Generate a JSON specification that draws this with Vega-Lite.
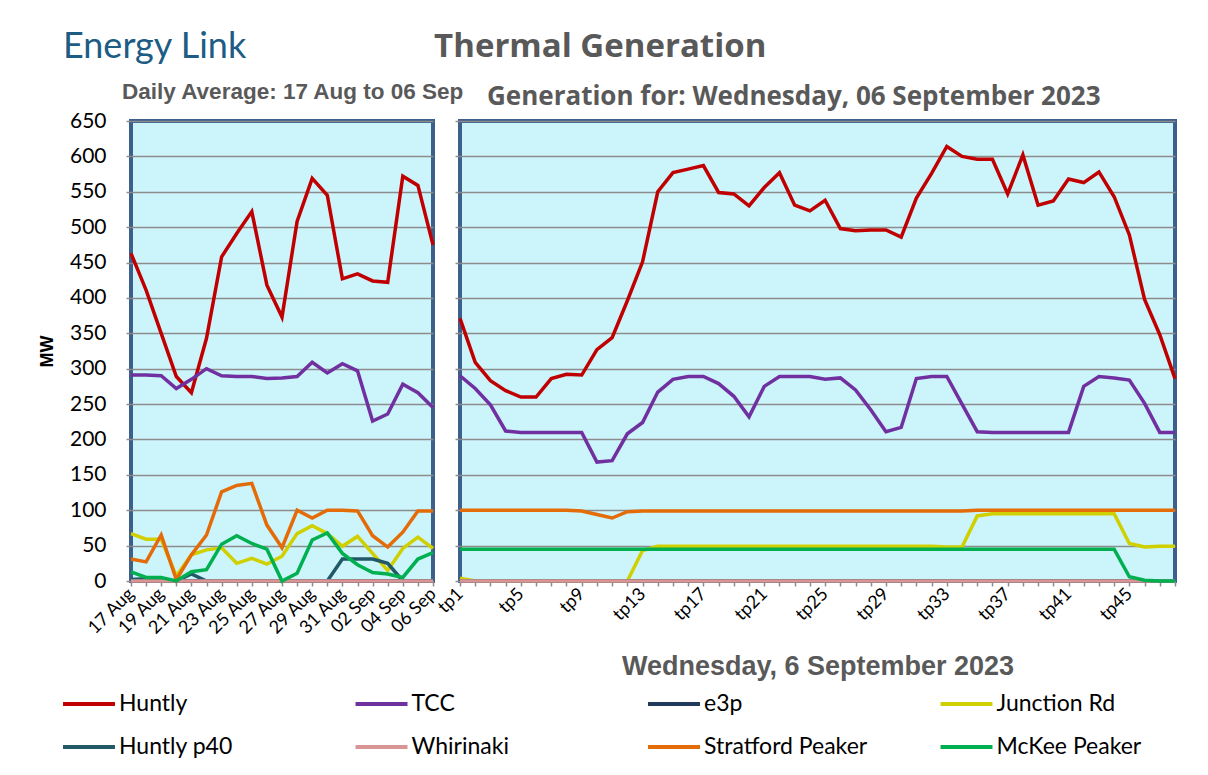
{
  "$schema": "https://vega.github.io/schema/vega-lite/v6.json",
  "background": "white",
  "padding": {"left": 36, "top": 28, "right": 20, "bottom": 10},
  "autosize": {"type": "pad"},
  "title": {"text": "Thermal Generation", "anchor": "middle", "dx": -10, "font": "Open Sans", "fontSize": 33, "fontWeight": "bold", "color": "#595959", "offset": -35},
  "datasets": {
    "daily": [
      {"d": "17 Aug", "Huntly": 463, "TCC": 291, "e3p": 0, "Junction Rd": 67, "Huntly p40": 2, "Whirinaki": 0, "Stratford Peaker": 31, "McKee Peaker": 13},
      {"d": "18 Aug", "Huntly": 411, "TCC": 291, "e3p": 0, "Junction Rd": 59, "Huntly p40": 3, "Whirinaki": 0, "Stratford Peaker": 27, "McKee Peaker": 5},
      {"d": "19 Aug", "Huntly": 350, "TCC": 290, "e3p": 0, "Junction Rd": 59, "Huntly p40": 0, "Whirinaki": 0, "Stratford Peaker": 65, "McKee Peaker": 5},
      {"d": "20 Aug", "Huntly": 289, "TCC": 272, "e3p": 0, "Junction Rd": 7, "Huntly p40": 0, "Whirinaki": 0, "Stratford Peaker": 2, "McKee Peaker": 0},
      {"d": "21 Aug", "Huntly": 266, "TCC": 285, "e3p": 0, "Junction Rd": 37, "Huntly p40": 10, "Whirinaki": 0, "Stratford Peaker": 37, "McKee Peaker": 13},
      {"d": "22 Aug", "Huntly": 343, "TCC": 300, "e3p": 0, "Junction Rd": 44, "Huntly p40": 0, "Whirinaki": 0, "Stratford Peaker": 65, "McKee Peaker": 16},
      {"d": "23 Aug", "Huntly": 458, "TCC": 290, "e3p": 0, "Junction Rd": 47, "Huntly p40": 0, "Whirinaki": 0, "Stratford Peaker": 126, "McKee Peaker": 52},
      {"d": "24 Aug", "Huntly": 491, "TCC": 289, "e3p": 0, "Junction Rd": 25, "Huntly p40": 0, "Whirinaki": 0, "Stratford Peaker": 135, "McKee Peaker": 64},
      {"d": "25 Aug", "Huntly": 522, "TCC": 289, "e3p": 0, "Junction Rd": 32, "Huntly p40": 0, "Whirinaki": 0, "Stratford Peaker": 138, "McKee Peaker": 53},
      {"d": "26 Aug", "Huntly": 418, "TCC": 286, "e3p": 0, "Junction Rd": 24, "Huntly p40": 0, "Whirinaki": 0, "Stratford Peaker": 79, "McKee Peaker": 45},
      {"d": "27 Aug", "Huntly": 373, "TCC": 287, "e3p": 0, "Junction Rd": 35, "Huntly p40": 0, "Whirinaki": 0, "Stratford Peaker": 47, "McKee Peaker": 0},
      {"d": "28 Aug", "Huntly": 508, "TCC": 289, "e3p": 0, "Junction Rd": 67, "Huntly p40": 0, "Whirinaki": 0, "Stratford Peaker": 100, "McKee Peaker": 11},
      {"d": "29 Aug", "Huntly": 569, "TCC": 309, "e3p": 0, "Junction Rd": 78, "Huntly p40": 0, "Whirinaki": 0, "Stratford Peaker": 89, "McKee Peaker": 58},
      {"d": "30 Aug", "Huntly": 545, "TCC": 294, "e3p": 0, "Junction Rd": 67, "Huntly p40": 0, "Whirinaki": 0, "Stratford Peaker": 100, "McKee Peaker": 68},
      {"d": "31 Aug", "Huntly": 427, "TCC": 307, "e3p": 0, "Junction Rd": 49, "Huntly p40": 31, "Whirinaki": 0, "Stratford Peaker": 100, "McKee Peaker": 39},
      {"d": "01 Sep", "Huntly": 434, "TCC": 297, "e3p": 0, "Junction Rd": 63, "Huntly p40": 31, "Whirinaki": 0, "Stratford Peaker": 99, "McKee Peaker": 23},
      {"d": "02 Sep", "Huntly": 424, "TCC": 226, "e3p": 0, "Junction Rd": 39, "Huntly p40": 31, "Whirinaki": 0, "Stratford Peaker": 64, "McKee Peaker": 12},
      {"d": "03 Sep", "Huntly": 422, "TCC": 236, "e3p": 0, "Junction Rd": 15, "Huntly p40": 25, "Whirinaki": 0, "Stratford Peaker": 48, "McKee Peaker": 10},
      {"d": "04 Sep", "Huntly": 572, "TCC": 278, "e3p": 0, "Junction Rd": 46, "Huntly p40": 0, "Whirinaki": 0, "Stratford Peaker": 69, "McKee Peaker": 5},
      {"d": "05 Sep", "Huntly": 559, "TCC": 266, "e3p": 0, "Junction Rd": 62, "Huntly p40": 0, "Whirinaki": 0, "Stratford Peaker": 99, "McKee Peaker": 31},
      {"d": "06 Sep", "Huntly": 475, "TCC": 245, "e3p": 0, "Junction Rd": 46, "Huntly p40": 0, "Whirinaki": 0, "Stratford Peaker": 99, "McKee Peaker": 40}
    ],
    "tp": [
      {"tp": "tp1", "Huntly": 371, "TCC": 290, "e3p": 0, "Junction Rd": 4, "Huntly p40": 0, "Whirinaki": 0, "Stratford Peaker": 100, "McKee Peaker": 45},
      {"tp": "tp2", "Huntly": 309, "TCC": 272, "e3p": 0, "Junction Rd": 0, "Huntly p40": 0, "Whirinaki": 0, "Stratford Peaker": 100, "McKee Peaker": 45},
      {"tp": "tp3", "Huntly": 283, "TCC": 249, "e3p": 0, "Junction Rd": 0, "Huntly p40": 0, "Whirinaki": 0, "Stratford Peaker": 100, "McKee Peaker": 45},
      {"tp": "tp4", "Huntly": 269, "TCC": 212, "e3p": 0, "Junction Rd": 0, "Huntly p40": 0, "Whirinaki": 0, "Stratford Peaker": 100, "McKee Peaker": 45},
      {"tp": "tp5", "Huntly": 260, "TCC": 210, "e3p": 0, "Junction Rd": 0, "Huntly p40": 0, "Whirinaki": 0, "Stratford Peaker": 100, "McKee Peaker": 45},
      {"tp": "tp6", "Huntly": 260, "TCC": 210, "e3p": 0, "Junction Rd": 0, "Huntly p40": 0, "Whirinaki": 0, "Stratford Peaker": 100, "McKee Peaker": 45},
      {"tp": "tp7", "Huntly": 286, "TCC": 210, "e3p": 0, "Junction Rd": 0, "Huntly p40": 0, "Whirinaki": 0, "Stratford Peaker": 100, "McKee Peaker": 45},
      {"tp": "tp8", "Huntly": 292, "TCC": 210, "e3p": 0, "Junction Rd": 0, "Huntly p40": 0, "Whirinaki": 0, "Stratford Peaker": 100, "McKee Peaker": 45},
      {"tp": "tp9", "Huntly": 291, "TCC": 210, "e3p": 0, "Junction Rd": 0, "Huntly p40": 0, "Whirinaki": 0, "Stratford Peaker": 99, "McKee Peaker": 45},
      {"tp": "tp10", "Huntly": 327, "TCC": 168, "e3p": 0, "Junction Rd": 0, "Huntly p40": 0, "Whirinaki": 0, "Stratford Peaker": 94, "McKee Peaker": 45},
      {"tp": "tp11", "Huntly": 344, "TCC": 170, "e3p": 0, "Junction Rd": 0, "Huntly p40": 0, "Whirinaki": 0, "Stratford Peaker": 89, "McKee Peaker": 45},
      {"tp": "tp12", "Huntly": 396, "TCC": 208, "e3p": 0, "Junction Rd": 0, "Huntly p40": 0, "Whirinaki": 0, "Stratford Peaker": 98, "McKee Peaker": 45},
      {"tp": "tp13", "Huntly": 451, "TCC": 224, "e3p": 0, "Junction Rd": 43, "Huntly p40": 0, "Whirinaki": 0, "Stratford Peaker": 99, "McKee Peaker": 45},
      {"tp": "tp14", "Huntly": 550, "TCC": 267, "e3p": 0, "Junction Rd": 49, "Huntly p40": 0, "Whirinaki": 0, "Stratford Peaker": 99, "McKee Peaker": 45},
      {"tp": "tp15", "Huntly": 577, "TCC": 285, "e3p": 0, "Junction Rd": 49, "Huntly p40": 0, "Whirinaki": 0, "Stratford Peaker": 99, "McKee Peaker": 45},
      {"tp": "tp16", "Huntly": 582, "TCC": 289, "e3p": 0, "Junction Rd": 49, "Huntly p40": 0, "Whirinaki": 0, "Stratford Peaker": 99, "McKee Peaker": 45},
      {"tp": "tp17", "Huntly": 587, "TCC": 289, "e3p": 0, "Junction Rd": 49, "Huntly p40": 0, "Whirinaki": 0, "Stratford Peaker": 99, "McKee Peaker": 45},
      {"tp": "tp18", "Huntly": 549, "TCC": 279, "e3p": 0, "Junction Rd": 49, "Huntly p40": 0, "Whirinaki": 0, "Stratford Peaker": 99, "McKee Peaker": 45},
      {"tp": "tp19", "Huntly": 547, "TCC": 261, "e3p": 0, "Junction Rd": 49, "Huntly p40": 0, "Whirinaki": 0, "Stratford Peaker": 99, "McKee Peaker": 45},
      {"tp": "tp20", "Huntly": 530, "TCC": 232, "e3p": 0, "Junction Rd": 49, "Huntly p40": 0, "Whirinaki": 0, "Stratford Peaker": 99, "McKee Peaker": 45},
      {"tp": "tp21", "Huntly": 556, "TCC": 275, "e3p": 0, "Junction Rd": 49, "Huntly p40": 0, "Whirinaki": 0, "Stratford Peaker": 99, "McKee Peaker": 45},
      {"tp": "tp22", "Huntly": 577, "TCC": 289, "e3p": 0, "Junction Rd": 49, "Huntly p40": 0, "Whirinaki": 0, "Stratford Peaker": 99, "McKee Peaker": 45},
      {"tp": "tp23", "Huntly": 531, "TCC": 289, "e3p": 0, "Junction Rd": 49, "Huntly p40": 0, "Whirinaki": 0, "Stratford Peaker": 99, "McKee Peaker": 45},
      {"tp": "tp24", "Huntly": 523, "TCC": 289, "e3p": 0, "Junction Rd": 49, "Huntly p40": 0, "Whirinaki": 0, "Stratford Peaker": 99, "McKee Peaker": 45},
      {"tp": "tp25", "Huntly": 538, "TCC": 285, "e3p": 0, "Junction Rd": 49, "Huntly p40": 0, "Whirinaki": 0, "Stratford Peaker": 99, "McKee Peaker": 45},
      {"tp": "tp26", "Huntly": 498, "TCC": 287, "e3p": 0, "Junction Rd": 49, "Huntly p40": 0, "Whirinaki": 0, "Stratford Peaker": 99, "McKee Peaker": 45},
      {"tp": "tp27", "Huntly": 495, "TCC": 270, "e3p": 0, "Junction Rd": 49, "Huntly p40": 0, "Whirinaki": 0, "Stratford Peaker": 99, "McKee Peaker": 45},
      {"tp": "tp28", "Huntly": 496, "TCC": 242, "e3p": 0, "Junction Rd": 49, "Huntly p40": 0, "Whirinaki": 0, "Stratford Peaker": 99, "McKee Peaker": 45},
      {"tp": "tp29", "Huntly": 496, "TCC": 211, "e3p": 0, "Junction Rd": 49, "Huntly p40": 0, "Whirinaki": 0, "Stratford Peaker": 99, "McKee Peaker": 45},
      {"tp": "tp30", "Huntly": 486, "TCC": 217, "e3p": 0, "Junction Rd": 49, "Huntly p40": 0, "Whirinaki": 0, "Stratford Peaker": 99, "McKee Peaker": 45},
      {"tp": "tp31", "Huntly": 541, "TCC": 286, "e3p": 0, "Junction Rd": 49, "Huntly p40": 0, "Whirinaki": 0, "Stratford Peaker": 99, "McKee Peaker": 45},
      {"tp": "tp32", "Huntly": 576, "TCC": 289, "e3p": 0, "Junction Rd": 49, "Huntly p40": 0, "Whirinaki": 0, "Stratford Peaker": 99, "McKee Peaker": 45},
      {"tp": "tp33", "Huntly": 614, "TCC": 289, "e3p": 0, "Junction Rd": 48, "Huntly p40": 0, "Whirinaki": 0, "Stratford Peaker": 99, "McKee Peaker": 45},
      {"tp": "tp34", "Huntly": 600, "TCC": 250, "e3p": 0, "Junction Rd": 48, "Huntly p40": 0, "Whirinaki": 0, "Stratford Peaker": 99, "McKee Peaker": 45},
      {"tp": "tp35", "Huntly": 596, "TCC": 211, "e3p": 0, "Junction Rd": 92, "Huntly p40": 0, "Whirinaki": 0, "Stratford Peaker": 100, "McKee Peaker": 45},
      {"tp": "tp36", "Huntly": 596, "TCC": 210, "e3p": 0, "Junction Rd": 95, "Huntly p40": 0, "Whirinaki": 0, "Stratford Peaker": 100, "McKee Peaker": 45},
      {"tp": "tp37", "Huntly": 547, "TCC": 210, "e3p": 0, "Junction Rd": 95, "Huntly p40": 0, "Whirinaki": 0, "Stratford Peaker": 100, "McKee Peaker": 45},
      {"tp": "tp38", "Huntly": 602, "TCC": 210, "e3p": 0, "Junction Rd": 95, "Huntly p40": 0, "Whirinaki": 0, "Stratford Peaker": 100, "McKee Peaker": 45},
      {"tp": "tp39", "Huntly": 531, "TCC": 210, "e3p": 0, "Junction Rd": 95, "Huntly p40": 0, "Whirinaki": 0, "Stratford Peaker": 100, "McKee Peaker": 45},
      {"tp": "tp40", "Huntly": 537, "TCC": 210, "e3p": 0, "Junction Rd": 95, "Huntly p40": 0, "Whirinaki": 0, "Stratford Peaker": 100, "McKee Peaker": 45},
      {"tp": "tp41", "Huntly": 568, "TCC": 210, "e3p": 0, "Junction Rd": 95, "Huntly p40": 0, "Whirinaki": 0, "Stratford Peaker": 100, "McKee Peaker": 45},
      {"tp": "tp42", "Huntly": 563, "TCC": 275, "e3p": 0, "Junction Rd": 95, "Huntly p40": 0, "Whirinaki": 0, "Stratford Peaker": 100, "McKee Peaker": 45},
      {"tp": "tp43", "Huntly": 578, "TCC": 289, "e3p": 0, "Junction Rd": 95, "Huntly p40": 0, "Whirinaki": 0, "Stratford Peaker": 100, "McKee Peaker": 45},
      {"tp": "tp44", "Huntly": 543, "TCC": 287, "e3p": 0, "Junction Rd": 95, "Huntly p40": 0, "Whirinaki": 0, "Stratford Peaker": 100, "McKee Peaker": 45},
      {"tp": "tp45", "Huntly": 489, "TCC": 284, "e3p": 0, "Junction Rd": 53, "Huntly p40": 0, "Whirinaki": 0, "Stratford Peaker": 100, "McKee Peaker": 6},
      {"tp": "tp46", "Huntly": 398, "TCC": 251, "e3p": 0, "Junction Rd": 48, "Huntly p40": 0, "Whirinaki": 0, "Stratford Peaker": 100, "McKee Peaker": 1},
      {"tp": "tp47", "Huntly": 348, "TCC": 210, "e3p": 0, "Junction Rd": 49, "Huntly p40": 0, "Whirinaki": 0, "Stratford Peaker": 100, "McKee Peaker": 0},
      {"tp": "tp48", "Huntly": 286, "TCC": 210, "e3p": 0, "Junction Rd": 49, "Huntly p40": 0, "Whirinaki": 0, "Stratford Peaker": 100, "McKee Peaker": 0}
    ]
  },
  "config": {
    "view": {"stroke": "#3D5F8C", "strokeWidth": 4, "fill": "#CCF4FB"},
    "axis": {"labelFont": "Lato", "labelFontSize": 18, "labelColor": "#000000", "tickColor": "#8C8C8C", "tickSize": 5, "tickWidth": 1.5, "gridColor": "#8C8C8C", "gridWidth": 1.5, "domain": false},
    "legend": {"labelFont": "Lato", "labelFontSize": 23, "labelColor": "#000000", "labelLimit": 400}
  },
  "resolve": {"scale": {"color": "shared"}, "legend": {"color": "shared"}},
  "vconcat": [
    {
      "title": {"text": "Energy Link", "anchor": "start", "frame": "group", "dx": -68, "offset": 13, "font": "Lato", "fontSize": 36, "fontWeight": "normal", "color": "#1D5C84"},
      "bounds": "flush",
      "spacing": 27,
      "resolve": {"scale": {"color": "shared"}, "legend": {"color": "shared"}},
      "hconcat": [
        {
          "width": 302,
          "height": 460,
          "data": {"name": "daily"},
          "transform": [{"fold": ["Huntly", "TCC", "e3p", "Junction Rd", "Huntly p40", "Whirinaki", "Stratford Peaker", "McKee Peaker"], "as": ["s", "v"]}],
          "title": {
            "text": "Daily Average: 17 Aug to 06 Sep",
            "anchor": "start", "frame": "group", "dx": -9, "offset": 7,
            "font": "Liberation Sans", "fontSize": 22.5, "fontWeight": "bold", "color": "#595959"
          },
          "mark": {"type": "line", "strokeWidth": 3.5},
          "encoding": {
            "x": {"field": "d", "type": "ordinal", "sort": null, "scale": {"type": "point", "padding": 0},
              "axis": {"title": null, "labelAngle": -45, "labelAlign": "right", "labelBaseline": "middle", "labelPadding": 5, "labelOverlap": false, "grid": false,
                "labelExpr": "indexof(['17 Aug','19 Aug','21 Aug','23 Aug','25 Aug','27 Aug','29 Aug','31 Aug','02 Sep','04 Sep','06 Sep'], datum.value) >= 0 ? datum.value : ''"}},
            "y": {"field": "v", "type": "quantitative", "scale": {"domain": [0, 650], "nice": false},
              "axis": {"values": [0, 50, 100, 150, 200, 250, 300, 350, 400, 450, 500, 550, 600, 650], "title": "MW", "titleFont": "Liberation Sans", "titleFontSize": 18, "titleFontWeight": "bold", "titleColor": "#000000", "titlePadding": 13, "labelPadding": 20, "labelFontSize": 21}},
            "color": {"field": "s", "type": "nominal",
              "scale": {"domain": ["Huntly", "TCC", "e3p", "Junction Rd", "Huntly p40", "Whirinaki", "Stratford Peaker", "McKee Peaker"],
                        "range": ["#C00000", "#7030A0", "#1F3A5A", "#D0D000", "#215968", "#D99594", "#E36C09", "#00B050"]},
              "legend": {"title": null, "orient": "none", "legendX": -70, "legendY": 555, "columns": 4, "direction": "horizontal", "symbolType": "stroke", "symbolSize": 2700, "symbolStrokeWidth": 4, "gridAlign": "all", "columnPadding": 64.5, "rowPadding": 3, "labelOffset": 2}}
          }
        },
        {
          "width": 715,
          "height": 460,
          "data": {"name": "tp"},
          "transform": [{"fold": ["Huntly", "TCC", "e3p", "Junction Rd", "Huntly p40", "Whirinaki", "Stratford Peaker", "McKee Peaker"], "as": ["s", "v"]}],
          "title": {
            "text": "Generation for: Wednesday, 06 September 2023",
            "anchor": "start", "frame": "group", "dx": 27, "offset": 10,
            "font": "Open Sans", "fontSize": 26, "fontWeight": "bold", "color": "#595959"
          },
          "mark": {"type": "line", "strokeWidth": 3.5},
          "encoding": {
            "x": {"field": "tp", "type": "ordinal", "sort": null, "scale": {"type": "point", "padding": 0},
              "axis": {"title": "Wednesday, 6 September 2023", "titleFont": "Liberation Sans", "titleFontSize": 27, "titleFontWeight": "bold", "titleColor": "#595959", "titlePadding": 30,
                "labelAngle": -45, "labelAlign": "right", "labelBaseline": "middle", "labelPadding": 5, "labelOverlap": false, "grid": false,
                "labelExpr": "indexof(['tp1','tp5','tp9','tp13','tp17','tp21','tp25','tp29','tp33','tp37','tp41','tp45'], datum.value) >= 0 ? datum.value : ''"}},
            "y": {"field": "v", "type": "quantitative", "scale": {"domain": [0, 650], "nice": false},
              "axis": {"values": [0, 50, 100, 150, 200, 250, 300, 350, 400, 450, 500, 550, 600, 650], "title": null, "labels": false}},
            "color": {"field": "s", "type": "nominal",
              "scale": {"domain": ["Huntly", "TCC", "e3p", "Junction Rd", "Huntly p40", "Whirinaki", "Stratford Peaker", "McKee Peaker"],
                        "range": ["#C00000", "#7030A0", "#1F3A5A", "#D0D000", "#215968", "#D99594", "#E36C09", "#00B050"]}}
          }
        }
      ]
    }
  ]
}
